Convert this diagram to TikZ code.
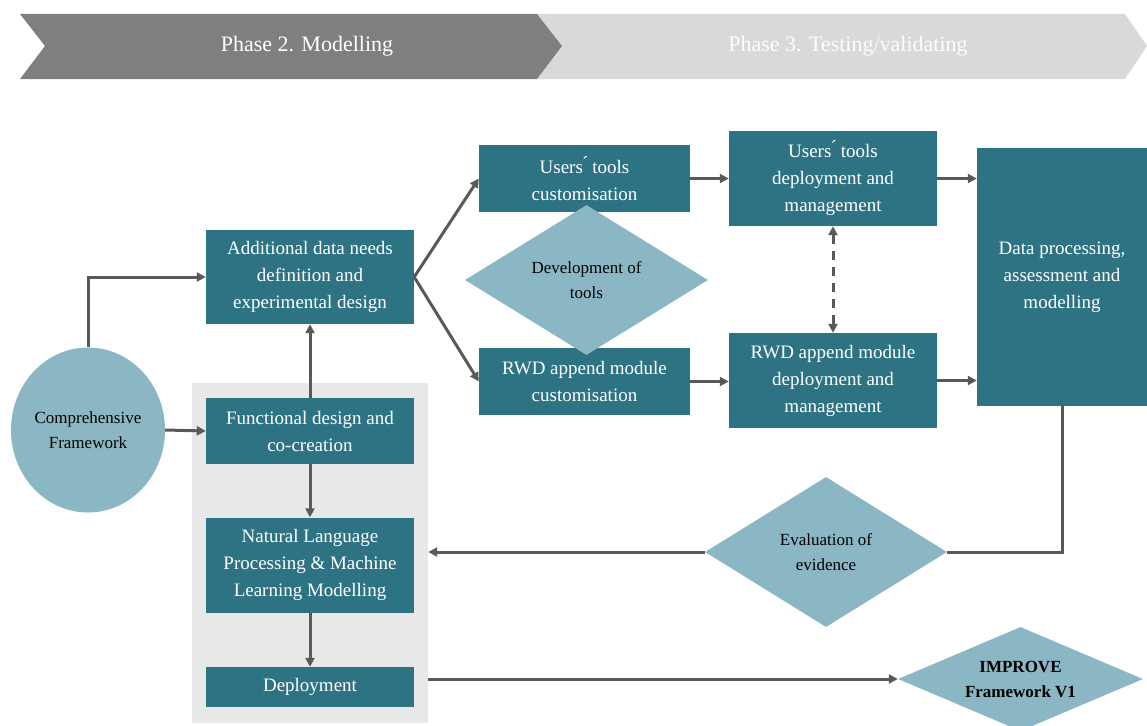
\documentclass[tikz,border=0pt]{standalone}
\usepackage{fontspec}
\setmainfont{Liberation Serif}
\newfontfamily\tnr{Liberation Serif}
\usetikzlibrary{arrows.meta,shapes.geometric}
\definecolor{teal1}{RGB}{46,115,132}
\definecolor{lteal}{RGB}{139,183,196}
\definecolor{arrowc}{RGB}{89,89,89}
\definecolor{darkchev}{RGB}{127,127,129}
\definecolor{lightchev}{RGB}{217,217,217}
\definecolor{panelc}{RGB}{232,232,232}
\tikzset{
  box/.style={fill=teal1, draw=none, text=white, align=center, inner sep=0pt,
    font=\tnr\fontsize{19}{27}\selectfont},
  dia/.style={diamond, fill=lteal, draw=none, text=black, align=center, inner sep=0pt,
    font=\tnr\fontsize{17}{25}\selectfont},
  arr/.style={draw=arrowc, line width=3pt, -{Triangle[length=9pt,width=9pt]}},
  darr/.style={draw=arrowc, line width=3pt, dash pattern=on 9pt off 7pt,
    {Triangle[length=9pt,width=9pt]}-{Triangle[length=9pt,width=9pt]}},
  phase/.style={font=\tnr\fontsize{22}{26}\selectfont, inner sep=0pt}
}
\begin{document}
\begin{tikzpicture}[x=1pt,y=-1pt]
\useasboundingbox (0,0) rectangle (1147,725);
% banner
\fill[lightchev] (537,14) -- (1125,14) -- (1147,46) -- (1125,79) -- (537,79) -- (562,46) -- cycle;
\fill[darkchev] (20,14) -- (537,14) -- (562,46) -- (537,79) -- (20,79) -- (45,46) -- cycle;
\node[phase, text=white] (ph2) at (307,46) {Phase 2. Modelling};
\node[phase, text=white!96!lightchev] (ph3) at (848,46) {Phase 3. Testing/validating};
% gray panel
\node[fill=panelc, draw=none, minimum width=236pt, minimum height=340pt, inner sep=0pt] (panel) at (310,553) {};
% boxes
\node[box, minimum width=208pt, minimum height=94pt] (add) at (310,277) {Additional data needs\\definition and\\experimental design};
\node[box, minimum width=208pt, minimum height=66pt] (func) at (310,431) {Functional design and\\co-creation};
\node[box, minimum width=208pt, minimum height=95pt] (nlp) at (310,565) {Natural Language\\Processing \& Machine\\Learning Modelling};
\node[box, minimum width=208pt, minimum height=40pt] (dep) at (310,687) {Deployment};
\node[box, minimum width=211pt, minimum height=67pt] (utc) at (584.5,178.5) {Users\'{} tools\\customisation};
\node[box, minimum width=211pt, minimum height=67pt] (rwdc) at (584.5,381.5) {RWD append module\\customisation};
\node[box, minimum width=208pt, minimum height=95pt] (utd) at (833,178.5) {Users\'{} tools\\deployment and\\management};
\node[box, minimum width=208pt, minimum height=95pt] (rwdd) at (833,380.5) {RWD append module\\deployment and\\management};
\node[box, minimum width=170pt, minimum height=258pt] (data) at (1062,277) {Data processing,\\assessment and\\modelling};
% light shapes
\node[ellipse, fill=lteal, draw=none, minimum width=154pt, minimum height=165pt, inner sep=0pt,
  align=center, font=\tnr\fontsize{17}{25}\selectfont] (circ) at (88,430) {Comprehensive\\Framework};
\node[dia, aspect=1.62, minimum width=243pt, minimum height=150pt] (devt) at (586.5,280) {Development of\\tools};
\node[dia, aspect=1.61, minimum width=242pt, minimum height=150pt] (eval) at (826,552) {Evaluation of\\evidence};
\node[dia, aspect=2.36, minimum width=245pt, minimum height=104pt, font=\tnr\bfseries\fontsize{17}{25}\selectfont] (imp) at (1020.5,679) {IMPROVE\\Framework V1};
% connectors
\draw[arr] (circ.north) |- (add.west);
\draw[arr] (circ.east) -- (func.west);
\draw[arr] (func.north) -- (add.south);
\draw[arr] (func.south) -- (nlp.north);
\draw[arr] (nlp.south) -- (dep.north);
\draw[arr] (add.east) -- (utc.west);
\draw[arr] (add.east) -- (rwdc.west);
\draw[arr] (utc.east) -- (utc.east -| utd.west);
\draw[arr] (rwdc.east) -- (rwdc.east -| rwdd.west);
\draw[darr] (utd.south) -- (rwdd.north);
\draw[arr] (utd.east) -- (utd.east -| data.west);
\draw[arr] (rwdd.east) -- (rwdd.east -| data.west);
\draw[draw=arrowc, line width=3pt] (data.south) |- (eval.east);
\draw[arr] (eval.west) -- (eval.west -| panel.east);
\draw[arr] (panel.east |- imp.west) -- (imp.west);
\end{tikzpicture}
\end{document}
